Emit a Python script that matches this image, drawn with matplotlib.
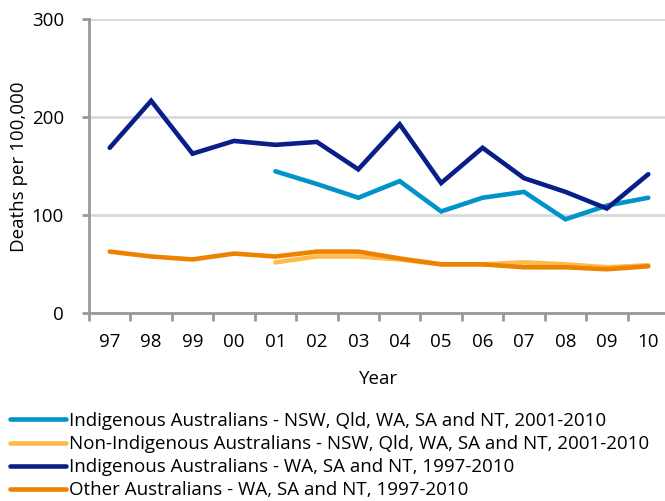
import matplotlib
matplotlib.use("Agg")
import matplotlib.pyplot as plt
import numpy as np

YEARS = ["97", "98", "99", "00", "01", "02", "03", "04", "05", "06", "07", "08", "09", "10"]

INDIG_5STATES = [145, 132, 118, 135, 104, 118, 124, 96, 110, 118]
NONINDIG_5STATES = [52, 58, 58, 55, 50, 50, 52, 50, 47, 49]
INDIG_3STATES = [169, 217, 163, 176, 172, 175, 147, 193, 133, 169, 138, 124, 107, 142]
OTHER_3STATES = [63, 58, 55, 61, 58, 63, 63, 56, 50, 50, 47, 47, 45, 48]

LABELS = [
    "Indigenous Australians - NSW, Qld, WA, SA and NT, 2001-2010",
    "Non-Indigenous Australians - NSW, Qld, WA, SA and NT, 2001-2010",
    "Indigenous Australians - WA, SA and NT, 1997-2010",
    "Other Australians - WA, SA and NT, 1997-2010",
]
COLORS = ["#0094C8", "#FFBA4D", "#0A1E8A", "#EC8200"]

plt.rcParams["font.family"] = ["Open Sans", "DejaVu Sans"]
plt.rcParams["font.size"] = 13.5

W, H = 665, 501
fig = plt.figure(figsize=(W / 100, H / 100), dpi=100)
ax = fig.add_axes([89 / W, 1 - 313.3 / H, (669 - 89) / W, (313.3 - 19.5) / H])

x = np.arange(len(YEARS))
x2 = np.arange(4, len(YEARS))
series = [
    (x2, INDIG_5STATES),
    (x2, NONINDIG_5STATES),
    (x, INDIG_3STATES),
    (x, OTHER_3STATES),
]
lines = []
for (xs, ys), color, label in zip(series, COLORS, LABELS):
    (ln,) = ax.plot(xs, ys, color=color, lw=3.3, label=label,
                    solid_capstyle="round", solid_joinstyle="miter", zorder=3)
    lines.append(ln)

ax.set_xlim(-0.5, len(YEARS) - 0.5)
ax.set_ylim(0, 300)
ax.set_yticks([0, 100, 200, 300])
ax.set_xticks(x)
ax.set_xticklabels(YEARS)
ax.set_xticks(np.arange(-0.5, len(YEARS)), minor=True)
ax.tick_params(axis="x", which="major", length=0, pad=14)
ax.tick_params(axis="x", which="minor", length=6, width=2, color="#999999")
ax.tick_params(axis="y", length=5, width=2, color="#999999", pad=13)

ax.grid(axis="y", color="#D9D9D9", lw=2, zorder=0)
ax.set_axisbelow(True)
for side in ["top", "right"]:
    ax.spines[side].set_visible(False)
for side in ["left", "bottom"]:
    ax.spines[side].set_color("#999999")
    ax.spines[side].set_linewidth(2)

ax.set_ylabel("Deaths per 100,000", labelpad=3)
ax.set_xlabel("Year", labelpad=14)

fig.legend(handles=lines, loc="upper left", bbox_to_anchor=(10 / W, 1 - 412 / H),
           frameon=False, handlelength=3.0, handletextpad=0.15,
           labelspacing=0.27, borderaxespad=0, borderpad=0)

fig.savefig("out.png", dpi=100)
